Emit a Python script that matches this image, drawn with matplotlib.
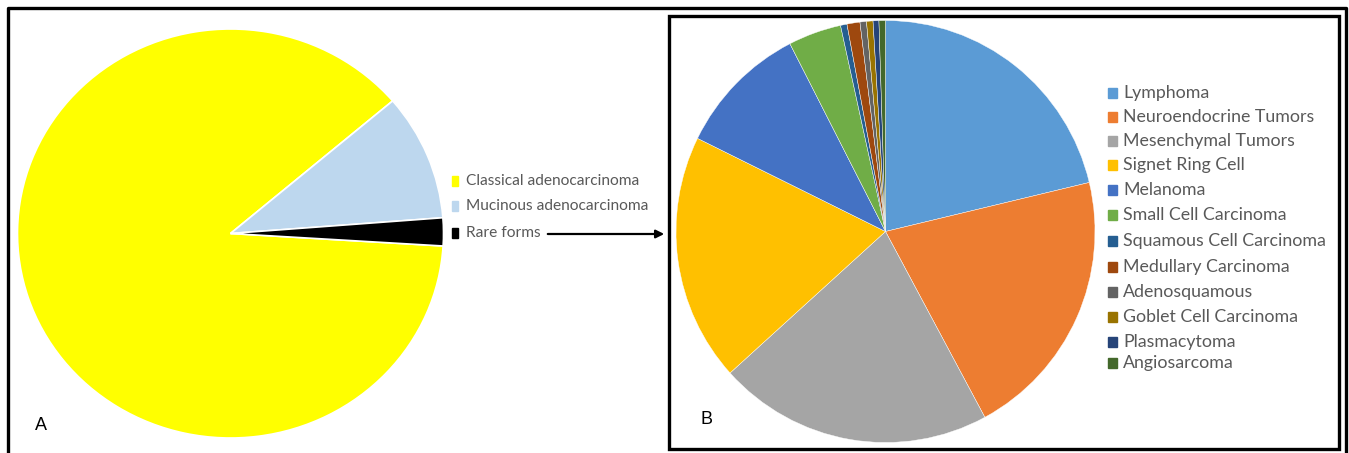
import matplotlib
matplotlib.use("Agg")
import matplotlib.pyplot as plt
from matplotlib.patches import Rectangle, FancyArrowPatch
from matplotlib.lines import Line2D

W, H = 1349, 453

# panel A: histologic types
types_a = ["Classical adenocarcinoma", "Mucinous adenocarcinoma", "Rare forms"]
share_a = [87.8, 10, 2.2]
colors_a = ["#FFFF00", "#BDD7EE", "#000000"]

# panel B: breakdown of the rare forms
types_b = ["Lymphoma", "Neuroendocrine Tumors", "Mesenchymal Tumors",
           "Signet Ring Cell", "Melanoma", "Small Cell Carcinoma",
           "Squamous Cell Carcinoma", "Medullary Carcinoma", "Adenosquamous",
           "Goblet Cell Carcinoma", "Plasmacytoma", "Angiosarcoma"]
share_b = [21.3, 20.9, 21.2, 19.0, 10.2, 4.1, 0.5, 1.0, 0.5, 0.5, 0.45, 0.5]
colors_b = ["#5B9BD5", "#ED7D31", "#A5A5A5", "#FFC000", "#4472C4", "#70AD47",
            "#255E91", "#9E480E", "#636363", "#997300", "#264478", "#43682B"]

plt.rcParams["font.family"] = ["Lato", "DejaVu Sans"]
grey = "#595959"

fig = plt.figure(figsize=(W / 100, H / 100), dpi=100)


def fx(x):
    return x / W


def fy(y):
    return 1 - y / H


def pie_axes(cx, cy, rx, ry):
    ax = fig.add_axes([fx(cx - rx), fy(cy + ry), 2 * rx / W, 2 * ry / H])
    ax.axis("off")
    return ax


def fix_limits(ax):
    ax.set_xlim(-1, 1)
    ax.set_ylim(-1, 1)
    ax.set_aspect("auto")


# pie A
ax_a = pie_axes(230.5, 233.5, 213, 204.5)
ax_a.pie(share_a, colors=colors_a, startangle=-3.5, counterclock=False,
         radius=1, wedgeprops=dict(edgecolor="white", linewidth=1.2))
fix_limits(ax_a)

# pie B
ax_b = pie_axes(885.5, 231.5, 209.5, 211)
ax_b.pie(share_b, colors=colors_b, startangle=90, counterclock=False,
         radius=1, wedgeprops=dict(edgecolor="white", linewidth=0.3))
fix_limits(ax_b)

# legend A
rows_a = [181, 206, 233]
for name, col, y in zip(types_a, colors_a, rows_a):
    fig.patches.append(Rectangle((fx(452), fy(y + 5)), 6 / W, 10 / H,
                                 transform=fig.transFigure, color=col))
    fig.text(fx(466), fy(y), name, fontsize=11.2, color=grey, va="center")

# legend B
rows_b = [93, 117, 141, 165, 190, 215, 241, 267, 292, 317, 342, 363]
for name, col, y in zip(types_b, colors_b, rows_b):
    fig.patches.append(Rectangle((fx(1108), fy(y + 5)), 9 / W, 10 / H,
                                 transform=fig.transFigure, color=col))
    fig.text(fx(1123), fy(y), name, fontsize=12.8, color=grey, va="center")

# arrow from "Rare forms" to panel B
fig.patches.append(FancyArrowPatch((fx(545), fy(234)), (fx(667), fy(234)),
                                   transform=fig.transFigure,
                                   arrowstyle="-|>", mutation_scale=12,
                                   color="black", lw=1.6))

# panel letters
fig.text(fx(35), fy(425), "A", fontsize=13, color="black", va="center",
         family=["Liberation Sans", "DejaVu Sans"])
fig.text(fx(700), fy(420), "B", fontsize=13, color="black", va="center",
         family=["Liberation Sans", "DejaVu Sans"])

# outer frame (top, left, right)
fig.lines.append(Line2D([fx(8), fx(8), fx(1346), fx(1346)],
                        [0, fy(7.5), fy(7.5), 0],
                        transform=fig.transFigure, color="black", lw=2.4))
# box around panel B
fig.patches.append(Rectangle((fx(668.5), fy(449)), (1339 - 668.5) / W,
                             (449 - 15.5) / H, transform=fig.transFigure,
                             fill=False, edgecolor="black", lw=2.4))

fig.savefig("out.png", dpi=100)
